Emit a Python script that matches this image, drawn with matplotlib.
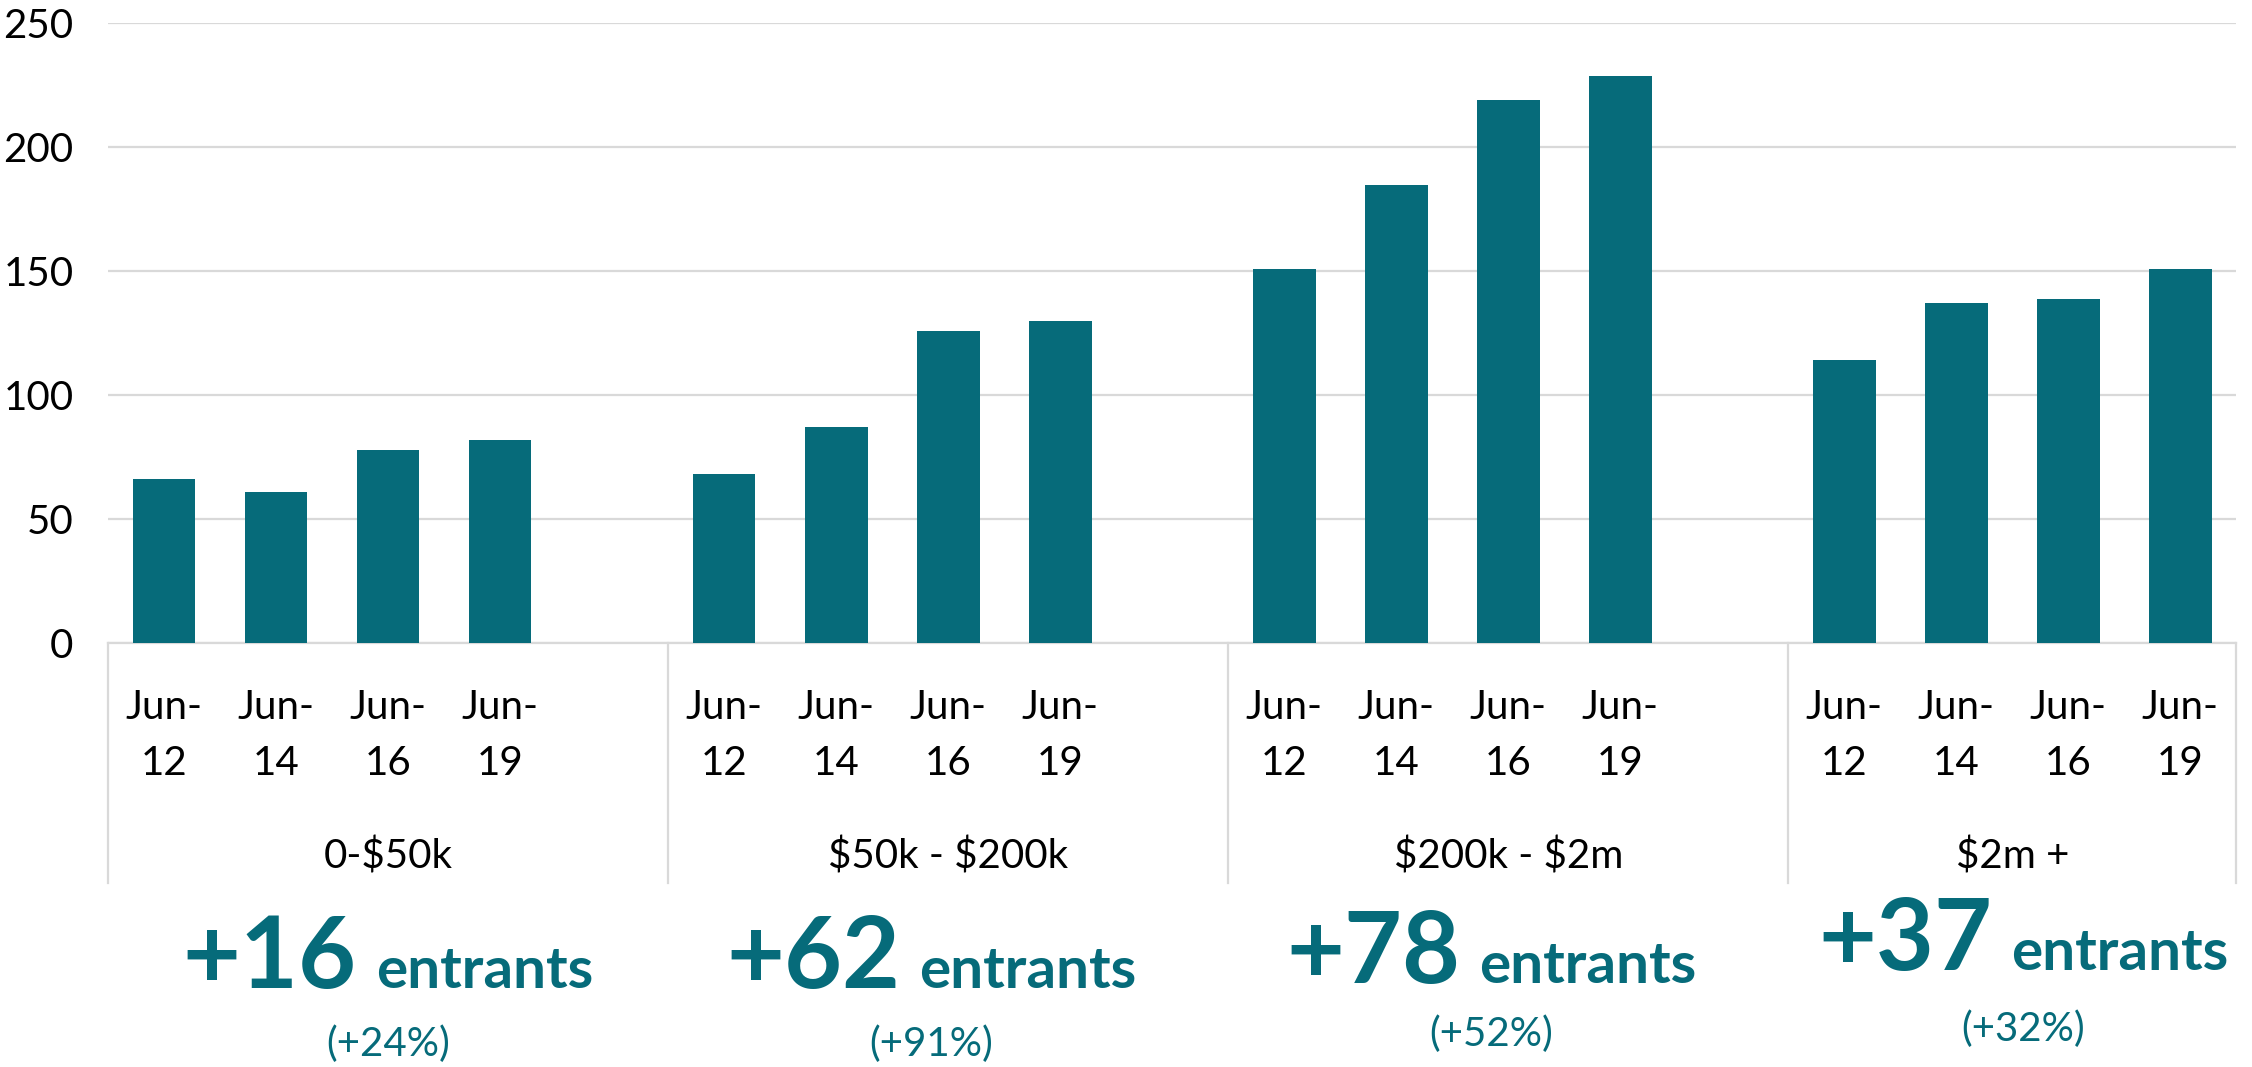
import matplotlib
matplotlib.use('Agg')
import matplotlib.pyplot as plt
import matplotlib.transforms as mtransforms
from matplotlib.offsetbox import TextArea, HPacker, AnnotationBbox

plt.rcParams['font.family'] = ['Lato', 'DejaVu Sans']
plt.rcParams['text.parse_math'] = False

groups = ['0-$50k', '$50k - $200k', '$200k - $2m', '$2m +']
periods = ['Jun-\n12', 'Jun-\n14', 'Jun-\n16', 'Jun-\n19']
values = [
    [66, 61, 78, 82],
    [68, 87, 126, 130],
    [151, 185, 219, 229],
    [114, 137, 139, 151],
]
changes = ['+16', '+62', '+78', '+37']
pct = ['(+24%)', '(+91%)', '(+52%)', '(+32%)']

teal = '#066B7A'
grid = '#D9D9D9'
fs = 29

fig = plt.figure(figsize=(22.52, 10.67), dpi=100)
ax = fig.add_axes([0.048, 0.3974, 0.945, 0.5806])

# 4 bars per group, one blank slot between groups
xs = []
for g in range(len(groups)):
    xs.append([g * 5 + i for i in range(len(periods))])

for g in range(len(groups)):
    ax.bar(xs[g], values[g], width=0.56, color=teal, zorder=3)

ax.set_xlim(-0.5, 18.5)
ax.set_ylim(0, 250)
ax.set_yticks(range(0, 251, 50))
ax.yaxis.grid(True, color=grid, lw=1.6)
ax.set_axisbelow(True)
ax.tick_params(axis='y', length=0, pad=25, labelsize=fs)
ax.set_xticks([])
for s in ['top', 'right', 'left']:
    ax.spines[s].set_visible(False)
ax.spines['bottom'].set_color(grid)
ax.spines['bottom'].set_linewidth(1.6)

tr = mtransforms.blended_transform_factory(ax.transData, fig.transFigure)

# category axis boxes
for xb in [-0.5, 4.5, 9.5, 14.5, 18.5]:
    ax.plot([xb, xb], [0.172, 0.3974], transform=tr, color=grid, lw=1.6, clip_on=False)

for g in range(len(groups)):
    for i, p in enumerate(periods):
        top, bot = p.split('\n')
        ax.text(xs[g][i], 0.337, top, transform=tr, ha='center', va='center', fontsize=fs)
        ax.text(xs[g][i], 0.284, bot, transform=tr, ha='center', va='center', fontsize=fs)
    gx = (xs[g][0] + xs[g][-1]) / 2 if g == 3 else xs[g][0] + 2
    ax.text(gx, 0.197, groups[g], transform=tr, ha='center', va='center', fontsize=fs)

# change annotations
ann_x = [2.0, 6.85, 11.85, 16.6]
ann_y = [0.101, 0.101, 0.105, 0.118]
pct_y = [0.0216, 0.0216, 0.031, 0.035]
for g in range(len(groups)):
    big = TextArea(changes[g], textprops=dict(fontsize=72, fontweight='bold', color=teal))
    small = TextArea('entrants', textprops=dict(fontsize=42, fontweight='bold', color=teal))
    box = HPacker(children=[big, small], align='baseline', pad=0, sep=14)
    ab = AnnotationBbox(box, (ann_x[g], ann_y[g]), xycoords=tr, frameon=False,
                        box_alignment=(0.5, 0.5), annotation_clip=False)
    ax.add_artist(ab)
    ax.text(ann_x[g], pct_y[g], pct[g], transform=tr, ha='center', va='center',
            fontsize=fs, color=teal)

fig.savefig('out.png', dpi=100)
